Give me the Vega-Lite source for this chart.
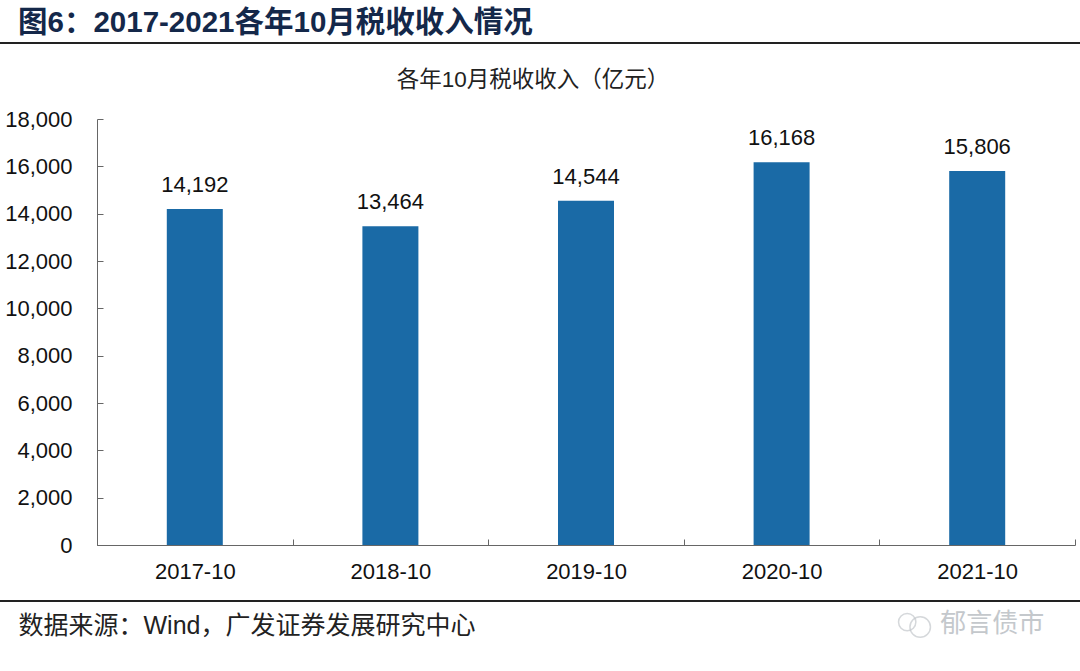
{
"$schema":"https://vega.github.io/schema/vega-lite/v6.json",
"width":978,"height":426,
"autosize":{"type":"none"},
"padding":{"left":97,"top":119,"right":5,"bottom":126},
"background":"white",
"config":{"view":{"stroke":null},"font":"Liberation Sans, Noto Sans CJK SC"},
"title":{"text":"图6：2017-2021各年10月税收收入情况","anchor":"start","frame":"group","dx":-79,"dy":0,"fontSize":29.5,"fontWeight":"bold","color":"#14284a","font":"Liberation Sans, Noto Sans CJK SC"},
"data":{"values":[
{"month":"2017-10","tax":14192},
{"month":"2018-10","tax":13464},
{"month":"2019-10","tax":14544},
{"month":"2020-10","tax":16168},
{"month":"2021-10","tax":15806}
]},
"layer":[
{"mark":{"type":"bar","size":56,"color":"#1a6aa6"},
 "encoding":{
 "x":{"field":"month","type":"nominal","scale":{"paddingInner":0,"paddingOuter":0},"axis":{"labelAngle":0,"labelFontSize":22,"labelColor":"#111","labelPadding":22,"tickBand":"extent","tickSize":-6,"tickColor":"#666","domainColor":"#666","title":"数据来源：Wind，广发证券发展研究中心","titleFontSize":25,"titleFontWeight":"normal","titleColor":"#222","titleAnchor":"start","titleAlign":"left","titleX":-79,"titleY":68}},
 "y":{"field":"tax","type":"quantitative","scale":{"domain":[0,18000]},"axis":{"values":[0,2000,4000,6000,8000,10000,12000,14000,16000,18000],"labelExpr":"format(datum.value, ',')","grid":false,"labelFontSize":22,"labelColor":"#111","labelPadding":31,"tickSize":-6,"tickColor":"#666","domainColor":"#666","title":"各年10月税收收入（亿元）","titleAngle":0,"titleFontSize":22.5,"titleFontWeight":"normal","titleColor":"#222","titleAlign":"center","titleBaseline":"middle","titleX":435.5,"titleY":-40}}
 }},
{"mark":{"type":"text","dy":-24,"fontSize":22,"color":"#111"},
 "encoding":{"x":{"field":"month","type":"nominal"},"y":{"field":"tax","type":"quantitative"},"text":{"field":"tax","type":"quantitative","format":","}}},
{"data":{"values":[{"a":1}]},"mark":{"type":"rule","color":"#222","strokeWidth":2,"clip":false,"xOffset":-195,"x2Offset":103},
 "encoding":{"x":{"datum":"2017-10","type":"nominal"},"x2":{"datum":"2021-10"},"y":{"datum":21211,"type":"quantitative"}}},
{"data":{"values":[{"a":1}]},"mark":{"type":"rule","color":"#222","strokeWidth":2,"clip":false,"xOffset":-195,"x2Offset":103},
 "encoding":{"x":{"datum":"2017-10","type":"nominal"},"x2":{"datum":"2021-10"},"y":{"datum":-2366,"type":"quantitative"}}},
{"data":{"values":[{"a":1}]},"mark":{"type":"text","text":"郁言债市","fontSize":26,"color":"#c4c8cc","dx":15,"clip":false},
 "encoding":{"x":{"datum":"2021-10","type":"nominal"},"y":{"datum":-3340,"type":"quantitative"}}},
{"data":{"values":[{"a":1}]},"mark":{"type":"point","shape":"circle","size":300,"filled":false,"stroke":"#c4c8cc","strokeWidth":1.5,"xOffset":-70,"yOffset":-2,"clip":false},
 "encoding":{"x":{"datum":"2021-10","type":"nominal"},"y":{"datum":-3340,"type":"quantitative"}}},
{"data":{"values":[{"a":1}]},"mark":{"type":"point","shape":"circle","size":420,"filled":false,"stroke":"#c4c8cc","strokeWidth":1.5,"xOffset":-57,"yOffset":3,"clip":false},
 "encoding":{"x":{"datum":"2021-10","type":"nominal"},"y":{"datum":-3340,"type":"quantitative"}}}
]
}
